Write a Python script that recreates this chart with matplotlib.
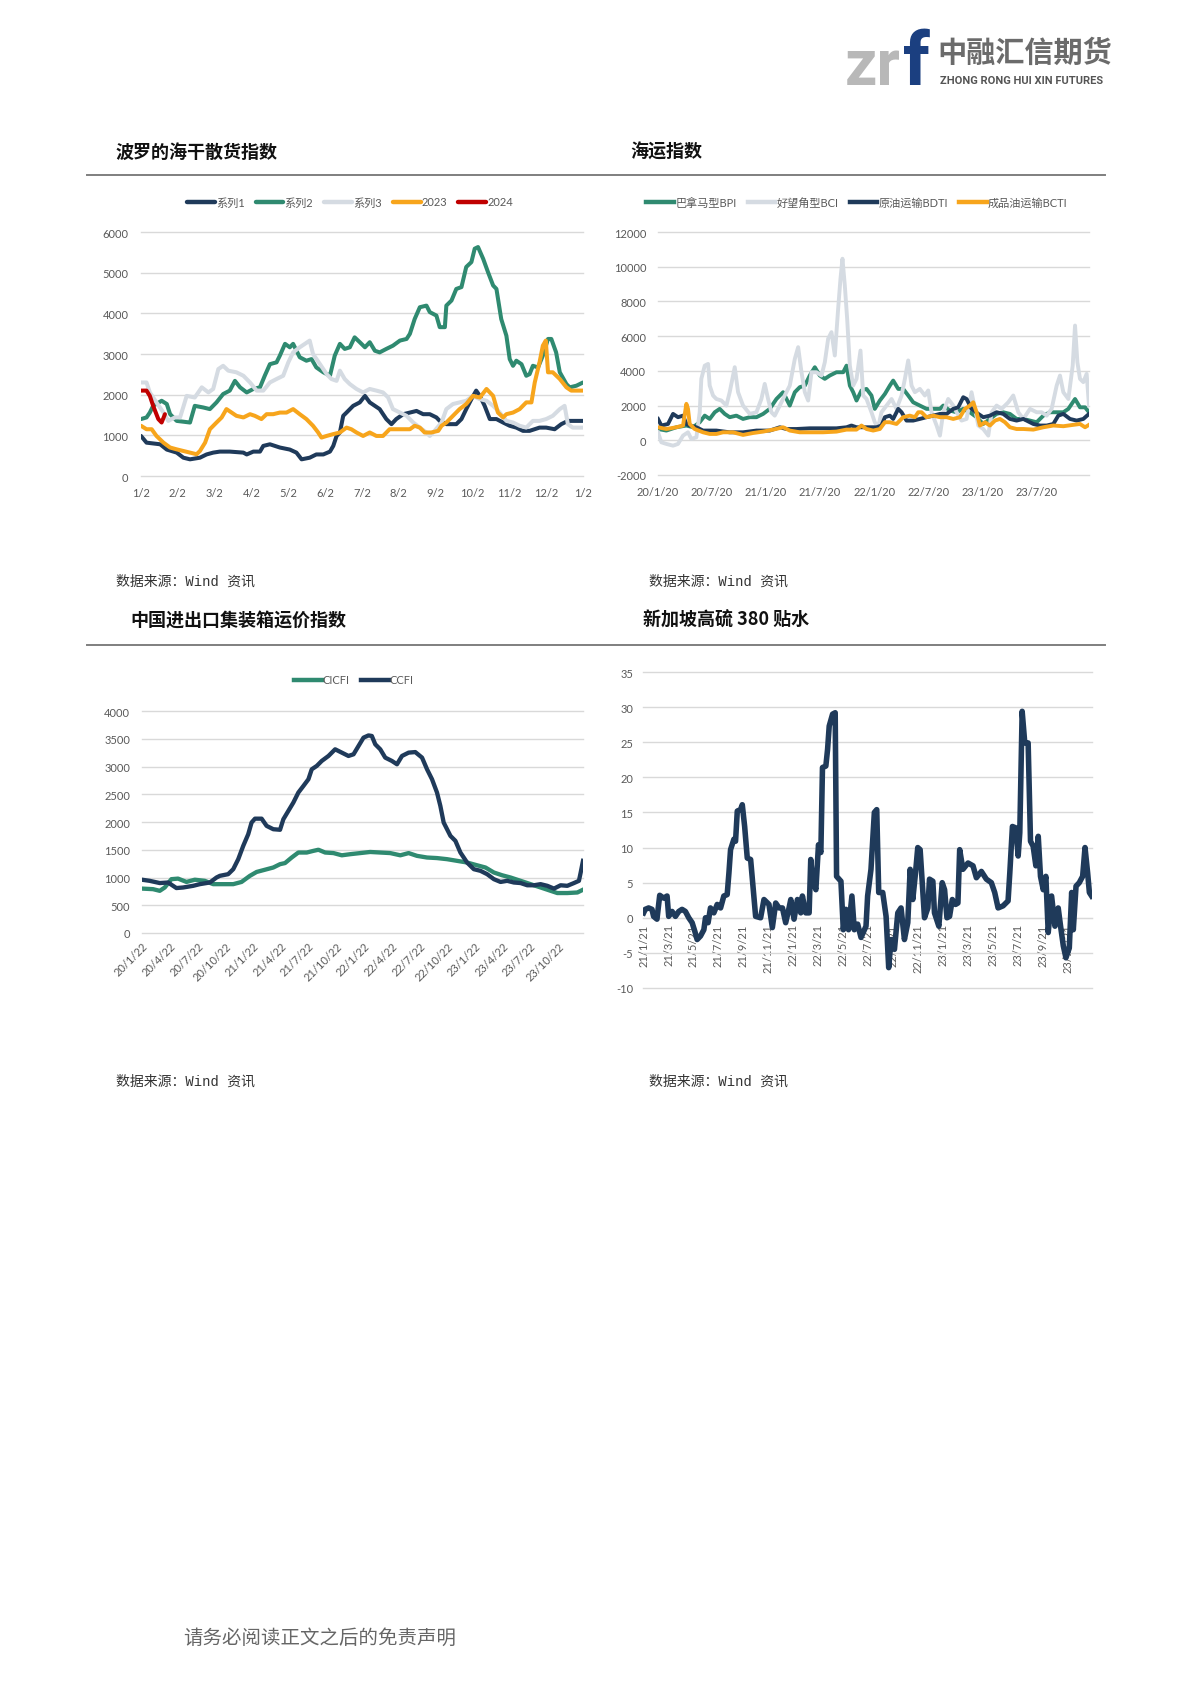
import matplotlib
matplotlib.use('Agg')
import matplotlib.pyplot as plt
from matplotlib.lines import Line2D
import numpy as np

plt.rcParams['font.family'] = ['Lato', 'Noto Sans CJK SC', 'DejaVu Sans']
plt.rcParams['axes.unicode_minus'] = False

W, H = 1190, 1683

# ---------- 波罗的海干散货指数 (x = months after 1/2) ----------
bdi_ticks = ['1/2', '2/2', '3/2', '4/2', '5/2', '6/2', '7/2', '8/2', '9/2', '10/2', '11/2', '12/2', '1/2']
bdi_s1 = [(0, 985), (0.15, 820), (0.52, 780), (0.70, 650), (0.97, 575), (1.15, 450), (1.33, 410),
          (1.60, 450), (1.78, 530), (1.96, 575), (2.14, 600), (2.41, 600), (2.78, 575), (2.87, 530),
          (3.05, 600), (3.23, 600), (3.32, 740), (3.50, 780), (3.77, 700), (4.04, 650), (4.22, 575),
          (4.36, 410), (4.58, 450), (4.76, 530), (4.95, 530), (5.13, 600), (5.22, 740), (5.31, 985),
          (5.40, 1070), (5.49, 1480), (5.58, 1560), (5.76, 1725), (5.94, 1810), (6.08, 1970),
          (6.21, 1810), (6.48, 1645), (6.66, 1400), (6.80, 1275), (6.93, 1400), (7.12, 1520),
          (7.30, 1560), (7.48, 1600), (7.66, 1520), (7.84, 1520), (8.02, 1440), (8.11, 1355),
          (8.29, 1275), (8.56, 1275), (8.70, 1400), (8.83, 1645), (8.97, 1890), (9.10, 2100),
          (9.20, 1970), (9.33, 1725), (9.47, 1400), (9.65, 1400), (9.83, 1315), (10.01, 1235),
          (10.19, 1190), (10.37, 1110), (10.55, 1110), (10.82, 1190), (11.00, 1190), (11.23, 1150),
          (11.41, 1275), (11.59, 1355), (11.72, 1355), (12.0, 1355)]
bdi_s2 = [(0, 1400), (0.15, 1440), (0.24, 1560), (0.33, 1725), (0.56, 1850), (0.70, 1770),
          (0.79, 1520), (0.97, 1355), (1.33, 1315), (1.46, 1725), (1.69, 1685), (1.87, 1645),
          (2.05, 1810), (2.23, 2015), (2.41, 2100), (2.55, 2340), (2.69, 2180), (2.87, 2055),
          (3.05, 2140), (3.23, 2180), (3.36, 2465), (3.50, 2750), (3.68, 2795), (3.77, 2960),
          (3.91, 3250), (4.04, 3165), (4.13, 3250), (4.31, 2920), (4.49, 2835), (4.63, 2875),
          (4.76, 2670), (4.95, 2550), (5.13, 2465), (5.26, 2960), (5.40, 3250), (5.53, 3125),
          (5.67, 3165), (5.80, 3410), (5.94, 3290), (6.08, 3165), (6.21, 3290), (6.35, 3080),
          (6.48, 3040), (6.66, 3125), (6.84, 3205), (7.03, 3330), (7.21, 3370), (7.30, 3495),
          (7.43, 3860), (7.57, 4150), (7.75, 4190), (7.84, 4030), (8.02, 3945), (8.11, 3660),
          (8.25, 3660), (8.29, 4190), (8.43, 4315), (8.56, 4600), (8.70, 4645), (8.83, 5140),
          (8.97, 5260), (9.06, 5590), (9.15, 5630), (9.29, 5340), (9.42, 5015), (9.56, 4685),
          (9.65, 4600), (9.78, 3860), (9.92, 3450), (10.01, 2875), (10.10, 2710), (10.19, 2835),
          (10.33, 2750), (10.46, 2465), (10.55, 2505), (10.64, 2710), (10.78, 2670), (10.91, 2960),
          (11.05, 3370), (11.14, 3370), (11.27, 3040), (11.37, 2550), (11.55, 2260), (11.64, 2180),
          (11.82, 2220), (12.0, 2300)]
bdi_s3 = [(0, 2300), (0.15, 2300), (0.24, 2055), (0.42, 1810), (0.61, 1560), (0.74, 1355),
          (0.92, 1440), (1.06, 1440), (1.15, 1700), (1.24, 1970), (1.46, 1930), (1.65, 2180),
          (1.83, 2055), (1.96, 2140), (2.10, 2630), (2.23, 2710), (2.37, 2590), (2.59, 2550),
          (2.78, 2465), (2.96, 2300), (3.14, 2100), (3.32, 2100), (3.50, 2300), (3.68, 2385),
          (3.86, 2465), (4.00, 2795), (4.13, 3040), (4.31, 3165), (4.45, 3250), (4.58, 3330),
          (4.67, 3000), (4.86, 2750), (5.04, 2505), (5.17, 2385), (5.31, 2340), (5.40, 2590),
          (5.53, 2385), (5.67, 2260), (5.85, 2140), (6.03, 2055), (6.21, 2140), (6.39, 2100),
          (6.57, 2055), (6.71, 1930), (6.84, 1645), (7.03, 1560), (7.21, 1480), (7.39, 1315),
          (7.57, 1190), (7.75, 1070), (7.84, 985), (7.97, 1110), (8.16, 1315), (8.29, 1645),
          (8.47, 1770), (8.65, 1810), (8.83, 1850), (9.01, 1970), (9.20, 1890), (9.38, 1850),
          (9.56, 1725), (9.74, 1560), (9.92, 1355), (10.10, 1315), (10.28, 1235), (10.46, 1190),
          (10.64, 1355), (10.82, 1355), (11.00, 1400), (11.18, 1480), (11.37, 1645), (11.50, 1725),
          (11.59, 1275), (11.72, 1190), (12.0, 1190)]
bdi_2023 = [(0, 1235), (0.15, 1150), (0.29, 1150), (0.42, 985), (0.61, 820), (0.79, 700),
            (0.97, 655), (1.15, 615), (1.33, 575), (1.51, 535), (1.60, 615), (1.74, 820),
            (1.87, 1150), (2.05, 1315), (2.19, 1440), (2.32, 1645), (2.46, 1560), (2.59, 1480),
            (2.78, 1440), (2.96, 1520), (3.09, 1480), (3.27, 1400), (3.41, 1520), (3.59, 1520),
            (3.77, 1560), (3.95, 1560), (4.13, 1645), (4.31, 1520), (4.49, 1400), (4.67, 1235),
            (4.81, 1070), (4.90, 945), (5.04, 985), (5.22, 1030), (5.40, 1070), (5.58, 1190),
            (5.71, 1150), (5.85, 1070), (6.03, 985), (6.21, 1070), (6.39, 985), (6.57, 985),
            (6.75, 1150), (7.03, 1150), (7.30, 1150), (7.43, 1235), (7.57, 1190), (7.70, 1070),
            (7.88, 1070), (8.07, 1110), (8.16, 1235), (8.29, 1315), (8.47, 1480), (8.65, 1645),
            (8.83, 1770), (9.01, 1970), (9.20, 1930), (9.38, 2140), (9.56, 1970), (9.69, 1560),
            (9.83, 1440), (9.92, 1520), (10.10, 1560), (10.28, 1645), (10.46, 1810), (10.60, 1810),
            (10.69, 2300), (10.82, 2795), (10.91, 3205), (10.99, 3330), (11.05, 2550), (11.18, 2550),
            (11.37, 2385), (11.55, 2180), (11.68, 2100), (12.0, 2100)]
bdi_2024 = [(0, 2100), (0.15, 2100), (0.24, 1970), (0.33, 1725), (0.47, 1400), (0.56, 1315), (0.65, 1520)]

# ---------- 海运指数 (x = months after 2020-01-20) ----------
sea_ticks = ['20/1/20', '20/7/20', '21/1/20', '21/7/20', '22/1/20', '22/7/20', '23/1/20', '23/7/20']
sea_bpi = [(0, 650), (0.93, 560), (2.04, 750), (3.15, 850), (3.89, 750), (4.63, 1040), (5.19, 1420),
           (5.74, 1230), (6.30, 1615), (6.85, 1810), (7.41, 1520), (7.96, 1330), (8.70, 1420),
           (9.44, 1230), (10.19, 1330), (10.93, 1330), (11.67, 1520), (12.41, 1810), (13.15, 2380),
           (13.89, 2770), (14.63, 2000), (15.19, 2770), (15.74, 3060), (16.30, 3150), (16.85, 3730),
           (17.41, 4210), (17.96, 3730), (18.52, 3540), (19.07, 3730), (19.81, 3920), (20.56, 3920),
           (20.93, 4300), (21.30, 3150), (21.67, 2770), (22.04, 2290), (22.59, 2870), (23.15, 2960),
           (23.70, 2580), (24.07, 1810), (24.63, 2290), (25.19, 2670), (25.74, 3150), (26.11, 3440),
           (26.67, 2960), (27.22, 2960), (27.78, 2580), (28.33, 2190), (29.07, 2000), (29.81, 1810),
           (30.56, 1810), (31.30, 1810), (31.67, 2000), (32.41, 1710), (33.15, 1615), (33.89, 1810),
           (34.63, 1615), (35.37, 1330), (36.11, 940), (36.85, 1230), (37.59, 1520), (38.33, 1615),
           (39.07, 1520), (39.81, 1230), (40.56, 1230), (41.30, 1135), (42.04, 1040), (42.78, 1420),
           (43.52, 1615), (44.26, 1615), (45.0, 1615), (45.56, 1810), (46.30, 2380), (46.85, 1900),
           (47.41, 1900), (47.85, 1615)]
sea_bci = [(0, 460), (0.37, -115), (0.93, -210), (1.67, -310), (2.22, -210), (2.78, 270), (3.33, 460),
           (3.70, 80), (4.26, 170), (4.63, 1615), (4.81, 3540), (5.19, 4300), (5.56, 4400), (5.74, 3150),
           (6.11, 2580), (6.48, 2380), (7.04, 2290), (7.59, 2000), (7.96, 2770), (8.52, 4210),
           (8.89, 2770), (9.44, 2000), (10.19, 1520), (10.93, 1615), (11.48, 2380), (11.85, 3250),
           (12.22, 2380), (12.59, 1615), (12.96, 1420), (13.52, 2000), (14.07, 2580), (14.63, 3150),
           (15.19, 4690), (15.56, 5365), (15.93, 3920), (16.30, 2770), (16.67, 2290), (17.04, 3920),
           (17.59, 3920), (18.15, 3730), (18.52, 4500), (18.89, 5850), (19.26, 6230), (19.63, 4885),
           (20.0, 7580), (20.26, 9310), (20.48, 10460), (20.74, 8920), (21.0, 7000), (21.30, 4300),
           (21.67, 3150), (22.04, 3540), (22.48, 5170), (22.78, 2580), (23.15, 2380), (23.70, 1615),
           (24.07, 1040), (24.44, 750), (24.81, 1615), (25.37, 2000), (25.93, 2380), (26.48, 1810),
           (27.04, 2580), (27.41, 3540), (27.78, 4600), (28.15, 3150), (28.52, 2770), (29.07, 2960),
           (29.63, 2580), (30.0, 2870), (30.37, 1615), (30.93, 850), (31.30, 270), (31.67, 1615),
           (32.22, 2380), (32.78, 2000), (33.15, 1615), (33.70, 1135), (34.26, 1230), (34.81, 2770),
           (35.19, 1810), (35.56, 850), (36.11, 650), (36.67, 270), (37.04, 1615), (37.59, 2000),
           (38.15, 1810), (38.89, 2190), (39.44, 2580), (40.0, 1615), (40.56, 1230), (41.30, 1810),
           (42.04, 1615), (42.59, 1615), (43.15, 1420), (43.70, 1810), (44.26, 3150), (44.63, 3730),
           (45.0, 2770), (45.56, 2380), (46.04, 4300), (46.30, 6610), (46.56, 4500), (46.85, 3540),
           (47.22, 3350), (47.59, 3830), (47.85, 2000)]
sea_bdti = [(0, 1230), (0.37, 850), (1.11, 940), (1.67, 1520), (2.22, 1330), (2.78, 1420), (3.15, 940),
            (3.52, 850), (4.26, 750), (5.0, 560), (6.48, 560), (7.96, 460), (9.44, 460), (10.93, 560),
            (12.41, 560), (13.52, 750), (14.26, 650), (15.37, 650), (16.85, 690), (18.33, 690),
            (19.81, 690), (20.93, 750), (21.48, 850), (22.04, 750), (23.15, 750), (24.26, 750),
            (24.81, 850), (25.19, 1330), (25.74, 1420), (26.11, 1230), (26.67, 1810), (27.04, 1615),
            (27.59, 1135), (28.33, 1135), (29.07, 1230), (29.81, 1330), (30.56, 1420), (31.30, 1520),
            (32.04, 1520), (32.78, 1810), (33.33, 1900), (33.89, 2480), (34.26, 2380), (34.81, 1810),
            (35.56, 1520), (36.11, 1330), (36.85, 1420), (37.59, 1615), (38.33, 1520), (39.07, 1230),
            (39.81, 1135), (40.56, 1230), (41.67, 940), (42.41, 850), (43.15, 850), (43.89, 940),
            (44.44, 1420), (45.0, 1520), (45.74, 1230), (46.48, 1135), (47.22, 1230), (47.85, 1520)]
sea_bcti = [(0, 750), (0.93, 650), (2.04, 750), (2.78, 850), (3.15, 2100), (3.33, 1810), (3.52, 940),
            (4.07, 650), (5.0, 460), (5.74, 365), (6.48, 365), (7.22, 460), (8.33, 460), (9.44, 310),
            (10.56, 420), (11.67, 500), (12.78, 615), (13.89, 750), (14.63, 560), (15.74, 460),
            (16.85, 460), (18.33, 460), (19.81, 500), (20.93, 615), (22.04, 615), (22.59, 850),
            (23.15, 650), (23.89, 560), (24.63, 650), (25.19, 1040), (25.74, 1040), (26.48, 940),
            (27.22, 1330), (27.96, 1420), (28.52, 1330), (28.89, 1615), (29.26, 1615), (29.81, 1330),
            (30.56, 1420), (31.30, 1330), (32.04, 1330), (32.78, 1230), (33.52, 1330), (34.07, 1810),
            (34.63, 2000), (35.0, 2190), (35.37, 1615), (35.74, 850), (36.30, 1040), (36.85, 850),
            (37.41, 1135), (37.96, 1230), (38.52, 1040), (39.07, 750), (39.81, 650), (40.56, 650),
            (41.67, 615), (42.78, 750), (43.89, 850), (45.0, 810), (46.11, 890), (46.85, 940),
            (47.41, 750), (47.85, 890)]

# ---------- 中国进出口集装箱运价指数 (x = months after 2020-01-22) ----------
box_ticks = ['20/1/22', '20/4/22', '20/7/22', '20/10/22', '21/1/22', '21/4/22', '21/7/22', '21/10/22',
             '22/1/22', '22/4/22', '22/7/22', '22/10/22', '23/1/22', '23/4/22', '23/7/22', '23/10/22']
box_cicfi = [(0, 800), (1.19, 790), (1.92, 760), (2.46, 820), (3.18, 970), (3.90, 980), (4.81, 920),
             (5.71, 960), (6.79, 940), (7.70, 880), (8.78, 880), (9.87, 880), (10.77, 920), (11.67, 1030),
             (12.40, 1100), (13.30, 1140), (14.20, 1180), (14.93, 1240), (15.47, 1260), (16.19, 1360),
             (16.91, 1450), (17.82, 1450), (18.54, 1480), (19.08, 1500), (19.81, 1450), (20.71, 1440),
             (21.61, 1400), (22.52, 1420), (23.60, 1440), (24.68, 1460), (25.77, 1450), (26.85, 1440),
             (27.94, 1400), (28.84, 1440), (29.74, 1390), (30.83, 1360), (31.91, 1350), (33.0, 1330),
             (34.08, 1300), (35.16, 1270), (36.25, 1220), (37.15, 1180), (38.06, 1090), (38.96, 1040),
             (39.86, 1000), (40.95, 940), (42.03, 880), (43.12, 820), (44.20, 760), (44.92, 720),
             (46.01, 720), (47.09, 730), (47.70, 780)]
box_ccfi = [(0, 960), (0.83, 940), (1.92, 900), (2.82, 910), (3.36, 850), (3.72, 810), (4.45, 820),
            (5.53, 850), (6.25, 880), (7.34, 910), (8.06, 1000), (8.42, 1030), (9.32, 1060), (9.87, 1150),
            (10.41, 1330), (10.95, 1570), (11.49, 1780), (11.85, 1990), (12.22, 2060), (12.94, 2060),
            (13.48, 1930), (14.20, 1870), (14.93, 1860), (15.29, 2050), (15.83, 2200), (16.37, 2350),
            (16.91, 2530), (17.46, 2650), (18.0, 2770), (18.36, 2950), (18.90, 3010), (19.44, 3100),
            (20.17, 3190), (20.89, 3310), (21.61, 3250), (22.33, 3190), (22.88, 3220), (23.42, 3370),
            (23.96, 3520), (24.50, 3560), (24.86, 3550), (25.23, 3400), (25.77, 3310), (26.31, 3160),
            (27.03, 3100), (27.58, 3040), (28.12, 3190), (28.84, 3250), (29.56, 3260), (30.29, 3160),
            (30.83, 2950), (31.37, 2770), (31.91, 2530), (32.27, 2290), (32.63, 1990), (33.36, 1750),
            (33.90, 1660), (34.44, 1450), (35.16, 1270), (35.89, 1150), (36.61, 1120), (37.33, 1060),
            (38.06, 970), (38.78, 920), (39.50, 940), (40.22, 910), (40.95, 900), (41.67, 860),
            (42.39, 860), (43.11, 880), (43.84, 850), (44.56, 800), (45.28, 860), (46.0, 850),
            (46.72, 900), (47.26, 940), (47.45, 1090), (47.70, 1300)]

# ---------- 新加坡高硫 380 贴水 (x = months after 2021-01-21) ----------
hsfo_ticks = ['21/1/21', '21/3/21', '21/5/21', '21/7/21', '21/9/21', '21/11/21', '22/1/21', '22/3/21',
              '22/5/21', '22/7/21', '22/9/21', '22/11/21', '23/1/21', '23/3/21', '23/5/21', '23/7/21',
              '23/9/21', '23/11/21']
hsfo = [(0, 0.7), (0.13, 1.2), (0.40, 1.4), (0.67, 1.2), (0.80, 0.2), (1.07, -0.2), (1.29, 3.2),
        (1.61, 2.8), (1.88, 3.1), (2.01, 0.2), (2.28, 0.9), (2.55, 0.2), (2.82, 0.9), (3.08, 1.2),
        (3.35, 0.9), (3.62, 0), (3.89, -0.7), (4.10, -1.9), (4.29, -3.1), (4.56, -2.6), (4.83, -1.7),
        (4.96, 0), (5.17, -0.7), (5.36, 1.4), (5.63, 0.7), (5.90, 1.9), (6.17, 1.4), (6.43, 3.1),
        (6.70, 3.3), (6.84, 6.4), (6.97, 9.7), (7.24, 11.2), (7.37, 10.9), (7.51, 15.2), (7.77, 15.4),
        (7.91, 16.1), (8.10, 13), (8.31, 8.5), (8.58, 8.3), (8.77, 4.5), (8.98, 0.2), (9.38, 0),
        (9.65, 2.6), (10.05, 1.9), (10.32, -1.4), (10.59, 2.1), (10.86, 1.4), (11.13, 1.4), (11.39, -0.7),
        (11.66, 1.4), (11.80, 2.6), (12.06, -0.2), (12.33, 2.6), (12.60, 0.7), (12.73, 3.1), (13.0, 0.7),
        (13.27, 0.7), (13.40, 8.3), (13.54, 5.5), (13.81, 4.0), (14.02, 10.4), (14.21, 9.3), (14.34, 21.4),
        (14.61, 21.6), (14.75, 24), (14.88, 27.3), (15.15, 29), (15.36, 29.2), (15.47, 5.9), (15.82, 5.2),
        (16.01, -1.7), (16.22, 1.2), (16.43, -1.7), (16.70, 3.1), (16.89, -1.7), (17.16, -0.9),
        (17.43, -2.8), (17.83, -1.2), (17.96, 3.1), (18.23, 6.9), (18.50, 15), (18.69, 15.4), (18.85, 3.6),
        (19.17, 3.6), (19.44, 0.2), (19.65, -7.1), (19.84, -3.1), (20.11, -4.5), (20.38, 0.7), (20.64, 1.4),
        (20.91, -3.1), (21.18, -0.7), (21.37, 6.9), (21.58, 2.6), (21.80, 6.4), (21.98, 10), (22.17, 9.7),
        (22.39, 3.6), (22.52, 0), (22.79, 1.4), (22.92, 5.5), (23.19, 5.2), (23.32, 0.7), (23.67, -1.2),
        (23.94, 5.0), (24.13, 4.0), (24.32, 0), (24.53, 0.2), (24.75, 2.6), (25.01, 1.9), (25.20, 2.1),
        (25.34, 9.7), (25.60, 6.9), (26.01, 7.8), (26.41, 7.4), (26.68, 5.7), (27.08, 6.6), (27.48, 5.5),
        (27.88, 5.0), (28.15, 3.6), (28.42, 1.4), (28.82, 1.7), (29.22, 2.4), (29.36, 6.4), (29.57, 13),
        (29.84, 12.8), (30.03, 8.8), (30.16, 12.1), (30.35, 29.4), (30.56, 24.9), (30.83, 24.9),
        (31.02, 10.9), (31.23, 10.2), (31.45, 7.4), (31.64, 11.6), (31.82, 5.9), (32.04, 4.0), (32.25, 5.9),
        (32.44, -2.1), (32.71, 3.1), (32.98, -1.2), (33.24, 1.4), (33.43, -1.2), (33.65, -4), (33.86, -5.7),
        (34.13, -4.3), (34.32, 3.6), (34.45, -1.7), (34.67, 4.5), (34.93, 5), (35.20, 5.9), (35.39, 10),
        (35.60, 6.4), (35.74, 3.6), (35.92, 3.1)]

NAVY = '#1f3a5a'
TEAL = '#2f8a70'
LGRAY = '#d5dbe2'
ORANGE = '#f7a51c'
RED = '#c00000'
GRID = '#d9d9d9'
TICK = '#595959'

fig = plt.figure(figsize=(W / 100, H / 100), dpi=100)


def axes_px(x0, y0, x1, y1):
    return fig.add_axes([x0 / W, 1 - y1 / H, (x1 - x0) / W, (y1 - y0) / H])


def style(ax, ypad=9, xpad=8):
    for s in ax.spines.values():
        s.set_visible(False)
    ax.grid(axis='y', color=GRID, lw=1.0)
    ax.set_axisbelow(True)
    ax.tick_params(length=0, labelsize=8, labelcolor=TICK)
    ax.tick_params(axis='y', pad=ypad)
    ax.tick_params(axis='x', pad=xpad)
    for l in ax.get_ygridlines():
        l.set_clip_on(False)


def xy(pairs):
    a = np.array(pairs, dtype=float)
    return a[:, 0], a[:, 1]


def fig_text(px, py, s, **kw):
    fig.text(px / W, 1 - py / H, s, **kw)


def legend(ax, cx, cy, ncol):
    leg = ax.legend(loc='center', bbox_to_anchor=(cx / W, 1 - cy / H), bbox_transform=fig.transFigure,
                    ncol=ncol, frameon=False, fontsize=8, handlelength=2.5, handletextpad=0.1,
                    columnspacing=1.0)
    for t in leg.get_texts():
        t.set_color(TICK)
    for h in leg.get_lines():
        h.set_linewidth(3.2)


# ---- chart 1 ----
ax1 = axes_px(141, 233, 583, 477)
for pairs, c, lab in [(bdi_s1, NAVY, '系列1'), (bdi_s2, TEAL, '系列2'), (bdi_s3, LGRAY, '系列3'),
                      (bdi_2023, ORANGE, '2023'), (bdi_2024, RED, '2024')]:
    x, y = xy(pairs)
    ax1.plot(x, y, color=c, lw=2.9, label=lab, solid_capstyle='round')
ax1.set_xlim(0, 12)
ax1.set_ylim(0, 6000)
ax1.set_yticks(range(0, 6001, 1000))
ax1.set_xticks(range(13))
ax1.set_xticklabels(bdi_ticks)
style(ax1)
legend(ax1, 350, 203, 5)

# ---- chart 2 ----
ax2 = axes_px(658, 233, 1089, 476)
for pairs, c, lab in [(sea_bpi, TEAL, '巴拿马型BPI'), (sea_bci, LGRAY, '好望角型BCI'),
                      (sea_bdti, NAVY, '原油运输BDTI'), (sea_bcti, ORANGE, '成品油运输BCTI')]:
    x, y = xy(pairs)
    ax2.plot(x, y, color=c, lw=2.8, label=lab)
ax2.set_xlim(0, 47.85)
ax2.set_ylim(-2000, 12000)
ax2.set_yticks(range(-2000, 12001, 2000))
ax2.set_xticks(range(0, 43, 6))
ax2.set_xticklabels(sea_ticks)
style(ax2, ypad=8.5)
legend(ax2, 857, 203, 4)

# ---- chart 3 ----
ax3 = axes_px(142, 712, 583, 934)
for pairs, c, lab in [(box_cicfi, TEAL, 'CICFI'), (box_ccfi, NAVY, 'CCFI')]:
    x, y = xy(pairs)
    ax3.plot(x, y, color=c, lw=3.1, label=lab)
ax3.set_xlim(0, 47.7)
ax3.set_ylim(0, 4000)
ax3.set_yticks(range(0, 4001, 500))
ax3.set_xticks(range(0, 46, 3))
ax3.set_xticklabels(box_ticks, rotation=45, ha='right', rotation_mode='anchor')
style(ax3, ypad=8.5, xpad=5)
legend(ax3, 354, 681, 2)

# ---- chart 4 ----
ax4 = axes_px(643, 673, 1092, 989)
x, y = xy(hsfo)
ax4.plot(x, y, color=NAVY, lw=4.0, zorder=3)
ax4.spines['bottom'].set_position(('data', 0))
ax4.set_xlim(-0.05, 35.95)
ax4.set_ylim(-10, 35)
ax4.set_yticks(range(-10, 36, 5))
ax4.set_xticks(range(0, 35, 2))
style(ax4, ypad=7, xpad=4)
ax4.set_xticklabels(hsfo_ticks, rotation=90, ha='center', va='top')
ax4.spines['bottom'].set_visible(True)
ax4.spines['bottom'].set_color(GRID)
ax4.xaxis.set_zorder(0.5)

# ---- page furniture ----
for py in (176, 646):
    fig.add_artist(Line2D([87 / W, 1105 / W], [1 - py / H, 1 - py / H], color='#7f7f7f', lw=1.4,
                          transform=fig.transFigure))

title_kw = dict(fontsize=13, fontweight='bold', color='#111111', va='center',
                family=['Noto Sans CJK SC', 'DejaVu Sans'])
fig_text(116, 152, '波罗的海干散货指数', **title_kw)
fig_text(630, 152, '海运指数', **title_kw)
fig_text(130, 620, '中国进出口集装箱运价指数', **title_kw)
fig_text(643, 620, '新加坡高硫 380 贴水', **title_kw)

src_kw = dict(fontsize=10, color='#333333', va='center', family=['Liberation Mono', 'Noto Sans CJK SC'])
for px, py in [(116, 582), (649, 582), (116, 1082), (649, 1082)]:
    fig_text(px, py, '数据来源：Wind 资讯', **src_kw)

fig_text(183, 1638, '请务必阅读正文之后的免责声明', fontsize=14, color='#666666', va='center',
         family=['Noto Sans CJK SC'])

# logo
fig_text(845, 85, 'zr', fontsize=46, fontweight='bold', color='#b8b8b8', va='baseline', family=['Roboto'])
fig_text(903, 85, 'f', fontsize=54, fontweight='bold', color='#1b3f80', va='baseline', family=['Roboto'])
fig_text(937, 53, '中融汇信期货', fontsize=21, fontweight='bold', color='#6b6b6b', va='center',
         family=['Noto Sans CJK SC'])
fig_text(940, 81, 'ZHONG RONG HUI XIN FUTURES', fontsize=8, fontweight='bold', color='#555555',
         va='center', family=['Roboto'])

fig.savefig('out.png', dpi=100, facecolor='white')
